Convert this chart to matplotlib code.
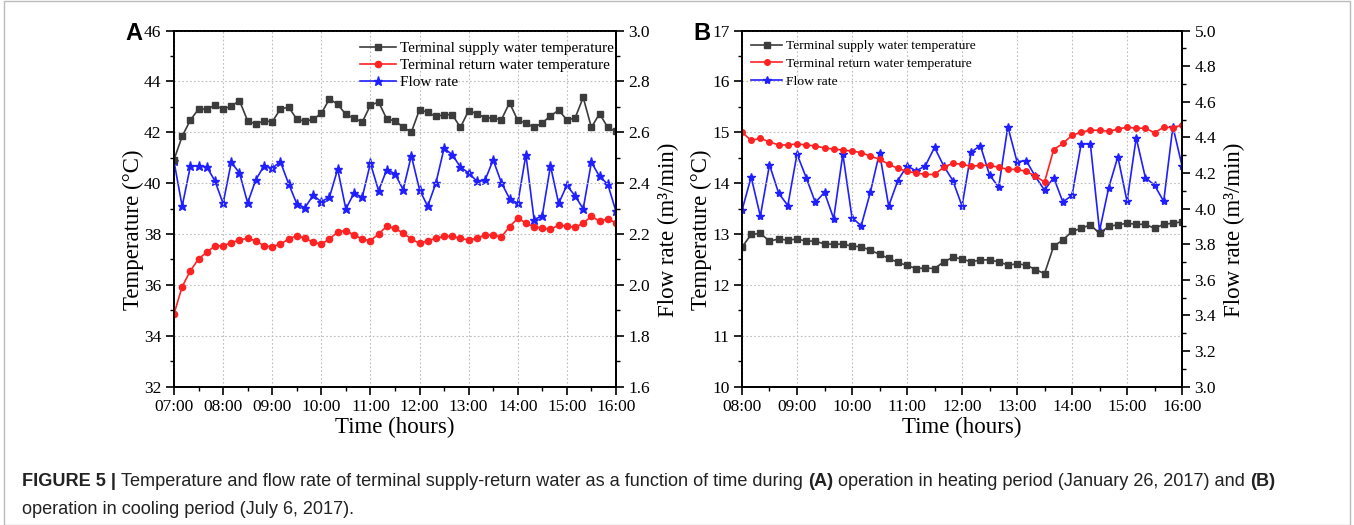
import numpy as np
import pandas as pd
import matplotlib
matplotlib.use("Agg")
from matplotlib import pyplot as plt
import matplotlib.dates as mdates
from matplotlib.patches import Rectangle
from matplotlib.ticker import MultipleLocator

# heating period, one reading every 10 min from 07:00 to 16:00
heat_start = "2017-01-26 07:00"
heat_supply = [40.92, 41.84, 42.48, 42.91, 42.91, 43.06, 42.91, 43.03, 43.24, 42.45,
               42.32, 42.45, 42.41, 42.91, 42.99, 42.52, 42.43, 42.51, 42.74, 43.31,
               43.10, 42.70, 42.55, 42.40, 43.06, 43.19, 42.52, 42.45, 42.20, 42.00,
               42.89, 42.78, 42.62, 42.69, 42.69, 42.19, 42.85, 42.73, 42.57, 42.56,
               42.49, 43.16, 42.47, 42.36, 42.19, 42.37, 42.64, 42.87, 42.49, 42.55,
               43.37, 42.19, 42.73, 42.19, 42.03]
heat_return = [34.85, 35.93, 36.55, 37.02, 37.28, 37.53, 37.53, 37.66, 37.76, 37.83,
               37.73, 37.53, 37.50, 37.60, 37.80, 37.93, 37.83, 37.67, 37.60, 37.80,
               38.08, 38.13, 37.96, 37.80, 37.73, 38.00, 38.30, 38.22, 38.03, 37.80,
               37.63, 37.73, 37.83, 37.90, 37.90, 37.83, 37.76, 37.83, 37.96, 37.96,
               37.88, 38.29, 38.61, 38.44, 38.27, 38.24, 38.18, 38.35, 38.31, 38.26,
               38.42, 38.70, 38.50, 38.59, 38.44]
heat_flow = [2.485, 2.309, 2.466, 2.468, 2.464, 2.409, 2.320, 2.482, 2.440, 2.322,
             2.413, 2.468, 2.459, 2.484, 2.398, 2.319, 2.303, 2.352, 2.327, 2.345,
             2.455, 2.298, 2.361, 2.344, 2.478, 2.370, 2.453, 2.437, 2.374, 2.508,
             2.374, 2.309, 2.400, 2.537, 2.512, 2.463, 2.440, 2.408, 2.411, 2.491,
             2.402, 2.339, 2.320, 2.512, 2.256, 2.272, 2.468, 2.320, 2.391, 2.350,
             2.299, 2.482, 2.426, 2.396, 2.289]

# cooling period, 08:00 to 16:00
cool_start = "2017-07-06 08:00"
cool_supply = [12.74, 12.99, 13.01, 12.86, 12.90, 12.88, 12.90, 12.86, 12.86, 12.80,
               12.80, 12.80, 12.76, 12.75, 12.68, 12.60, 12.52, 12.44, 12.38, 12.32,
               12.33, 12.32, 12.45, 12.54, 12.51, 12.45, 12.49, 12.49, 12.45, 12.39,
               12.41, 12.39, 12.30, 12.22, 12.76, 12.88, 13.05, 13.11, 13.18, 13.01,
               13.15, 13.18, 13.21, 13.19, 13.19, 13.11, 13.19, 13.21, 13.24]
cool_return = [15.00, 14.84, 14.88, 14.81, 14.75, 14.75, 14.77, 14.75, 14.73, 14.69,
               14.67, 14.65, 14.63, 14.60, 14.53, 14.47, 14.37, 14.29, 14.23, 14.20,
               14.17, 14.17, 14.31, 14.39, 14.37, 14.33, 14.35, 14.35, 14.31, 14.27,
               14.27, 14.23, 14.14, 14.02, 14.66, 14.78, 14.94, 15.00, 15.04, 15.04,
               15.02, 15.06, 15.10, 15.08, 15.08, 14.99, 15.10, 15.09, 15.14]
cool_flow = [3.990, 4.177, 3.957, 4.246, 4.086, 4.017, 4.306, 4.174, 4.034, 4.091,
             3.943, 4.306, 3.949, 3.903, 4.091, 4.314, 4.014, 4.157, 4.240, 4.211,
             4.240, 4.343, 4.240, 4.157, 4.014, 4.317, 4.354, 4.189, 4.120, 4.460,
             4.263, 4.269, 4.180, 4.103, 4.174, 4.037, 4.074, 4.363, 4.363, 3.874,
             4.117, 4.291, 4.040, 4.397, 4.174, 4.131, 4.040, 4.460, 4.240]

names = ["Terminal supply water temperature",
         "Terminal return water temperature",
         "Flow rate"]

SERIF = ["Liberation Serif", "DejaVu Serif"]
SANS = ["Liberation Sans", "DejaVu Sans"]
plt.rcParams["font.family"] = SERIF
plt.rcParams["axes.linewidth"] = 1.3

BLACK = "#3c3c3c"
RED = "#ff2222"
BLUE = "#1f1fff"

fig = plt.figure(figsize=(13.54, 5.25), dpi=100)
fig.patches.append(Rectangle((0.003, 0.0), 0.994, 0.998, transform=fig.transFigure,
                             fill=False, edgecolor="#bbbbbb", linewidth=1.0))


def panel(rect, start, supply, ret, flow, tlim, tmaj, tmin, flim, hours,
          letter, leg_kw, leg_size, leg_gap, ms):
    t = pd.date_range(start, periods=len(supply), freq="10min")
    ax = fig.add_axes(rect)
    ax2 = ax.twinx()
    l1, = ax.plot(t, supply, color=BLACK, marker="s", ms=ms, lw=1.2)
    l2, = ax.plot(t, ret, color=RED, marker="o", ms=ms, lw=1.2)
    l3, = ax2.plot(t, flow, color=BLUE, marker="*", ms=ms + 2, lw=1.2)

    ax.set_ylim(*tlim)
    ax2.set_ylim(*flim)
    ax.set_xlim(t[0], t[0] + pd.Timedelta(hours=hours))
    ax.yaxis.set_major_locator(MultipleLocator(tmaj))
    ax.yaxis.set_minor_locator(MultipleLocator(tmin))
    ax2.yaxis.set_major_locator(MultipleLocator(0.2))
    ax2.yaxis.set_minor_locator(MultipleLocator(0.1))
    ax2.yaxis.set_major_formatter(matplotlib.ticker.FormatStrFormatter("%.1f"))
    ax.xaxis.set_major_locator(mdates.HourLocator())
    ax.xaxis.set_minor_locator(mdates.MinuteLocator(byminute=[30]))
    ax.xaxis.set_major_formatter(mdates.DateFormatter("%H:%M"))

    for a in (ax, ax2):
        a.tick_params(which="major", direction="out", length=6, width=1.2,
                      labelsize=12.5, pad=3)
        a.tick_params(which="minor", direction="out", length=3, width=1.0)
    ax.grid(True, which="major", color="#bdbdbd", ls=(0, (1.5, 2)), lw=0.8)
    ax.set_zorder(ax2.get_zorder() + 1)
    ax.patch.set_visible(False)

    ax.set_xlabel("Time (hours)", fontsize=16.5, labelpad=1)
    ax.set_ylabel("Temperature (°C)", fontsize=16.5)
    ax2.set_ylabel("Flow rate (m³/min)", fontsize=16.5)
    ax.yaxis.set_label_coords(-0.068, 0.44)
    ax2.yaxis.set_label_coords(1.095, 0.44)

    ax.legend([l1, l2, l3], names, frameon=False, fontsize=leg_size,
              handlelength=2.3, handletextpad=0.3, labelspacing=leg_gap,
              borderaxespad=0.3, **leg_kw)
    fig.text(rect[0] - 0.036, rect[1] + rect[3] - 0.006, letter, family=SANS,
             weight="bold", fontsize=17, ha="left", va="center")
    return ax


panel([0.1285, 0.2638, 0.3264, 0.678], heat_start, heat_supply, heat_return,
      heat_flow, (32, 46), 2, 1, (1.6, 3.0), 9, "A",
      dict(loc="upper right", bbox_to_anchor=(1.02, 1.0)), 11.0, 0.22, 4.5)
panel([0.548, 0.2638, 0.325, 0.678], cool_start, cool_supply, cool_return,
      cool_flow, (10, 17), 1, 0.5, (3.0, 5.0), 8, "B",
      dict(loc="upper left", bbox_to_anchor=(0.0, 1.0)), 9.7, 0.38, 4)

# caption with bold runs mixed into normal text
renderer = fig.canvas.get_renderer()
cap_size = 13.1


def text_width(s, weight):
    tt = fig.text(0, 0, s, family=SANS, fontsize=cap_size, weight=weight)
    w = tt.get_window_extent(renderer).width
    tt.remove()
    return w


space = text_width("a a", "normal") - text_width("aa", "normal")


def caption_line(x_px, y_px, runs):
    for s, weight in runs:
        fig.text(x_px / 1354, 1 - y_px / 525, s, family=SANS, fontsize=cap_size,
                 weight=weight, va="center", ha="left", color="#222222")
        x_px += text_width(s, weight) + space


caption_line(22, 481, [
    ("FIGURE 5 |", "bold"),
    ("Temperature and flow rate of terminal supply-return water as a function "
     "of time during", "normal"),
    ("(A)", "bold"),
    ("operation in heating period (January 26, 2017) and", "normal"),
    ("(B)", "bold"),
])
caption_line(22, 509, [("operation in cooling period (July 6, 2017).", "normal")])

fig.savefig("out.png", dpi=100)
